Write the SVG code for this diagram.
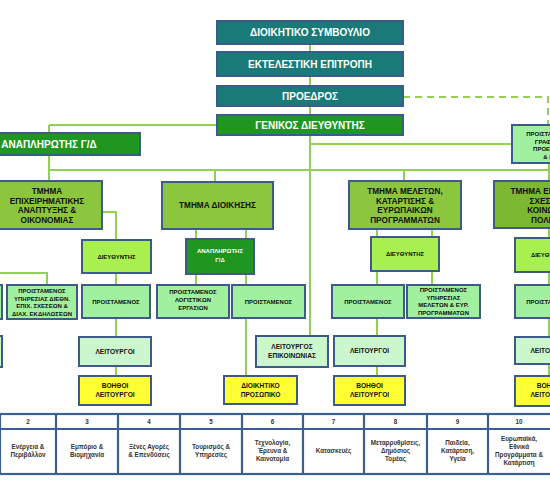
<svg xmlns="http://www.w3.org/2000/svg" width="550" height="500" viewBox="0 0 550 500">
<style>
text{font-family:"Liberation Sans",Arial,sans-serif;font-weight:bold;text-anchor:middle}
.b{stroke:#3c5a8a;stroke-width:2}
.teal{fill:#1a7a78}
.dg{fill:#1f961f}
.tm{fill:#8cc63f}
.tm2{fill:#7cb832}
.di{fill:#a8f050}
.pr{fill:#a0f0a0}
.le{fill:#ccf6cc}
.vo{fill:#ffff33}
.w{fill:#fff}
.k{fill:#111}
.c{fill:none;stroke:#92d050;stroke-width:2}
.t10{font-size:10px}
.t8{font-size:8.2px}
.t6{font-size:6px}
.t65{font-size:6.6px}
.tb{font-size:6.3px;fill:#333}
.tab{fill:#fff;stroke:#3c5f90;stroke-width:2.2}
</style>
<rect width="550" height="500" fill="#fff"/>
<g id="connectors">
<path class="c" d="M310 44V336M49 125H217M49 125V181M310 144H512M49 170H550M215 170V182M404 170V181M549 163V376"/>
<path class="c" d="M403 97H548V125" stroke-dasharray="7,5"/>
<path class="c" d="M102 212H116V240M116 273V376M0 273H47V285"/>
<path class="c" d="M196 229V285M246 229V376M377 229V376M432 229V285"/>
</g>
<g id="board"><rect class="b teal" x="217" y="21" width="186" height="23"/><text class="w t10" x="310" y="36">ΔΙΟΙΚΗΤΙΚΟ ΣΥΜΒΟΥΛΙΟ</text></g>
<g id="exec"><rect class="b teal" x="217" y="52" width="186" height="24"/><text class="w t10" x="310" y="68">ΕΚΤΕΛΕΣΤΙΚΗ ΕΠΙΤΡΟΠΗ</text></g>
<g id="president"><rect class="b teal" x="217" y="86" width="186" height="20"/><text class="w t10" x="310" y="100">ΠΡΟΕΔΡΟΣ</text></g>
<g id="gm"><rect class="b dg" x="217" y="115" width="186" height="20"/><text class="w t10" x="310" y="129">ΓΕΝΙΚΟΣ ΔΙΕΥΘΥΝΤΗΣ</text></g>
<g id="deputy"><rect class="b dg" x="-42" y="133" width="182" height="22"/><text class="w t10" x="49" y="148">ΑΝΑΠΛΗΡΩΤΗΣ Γ/Δ</text></g>
<g id="office"><rect class="b pr" x="512" y="125" width="76" height="38"/><text class="k t6" x="550" y="136">ΠΡΟΙΣΤΑΜΕΝΟΣ<tspan x="550" dy="7.5">ΓΡΑΦΕΙΟΥ</tspan><tspan x="550" dy="7.5">ΠΡΟΕΔΡΟΥ</tspan><tspan x="550" dy="7.5">&amp; ΓΔ</tspan></text></g>

<g id="dept1"><rect class="b tm" x="-8" y="181" width="110" height="48"/><text class="k t8" x="47" y="194">ΤΜΗΜΑ<tspan x="47" dy="9.5">ΕΠΙΧΕΙΡΗΜΑΤΙΚΗΣ</tspan><tspan x="47" dy="9.5">ΑΝΑΠΤΥΞΗΣ &amp;</tspan><tspan x="47" dy="9.5">ΟΙΚΟΝΟΜΙΑΣ</tspan></text></g>
<g id="dir1"><rect class="b di" x="82" y="240" width="69" height="33"/><text class="k t6" x="116.5" y="259">ΔΙΕΥΘΥΝΤΗΣ</text></g>
<g id="edgeA"><rect class="b pr" x="-60" y="285" width="62" height="34"/></g>
<g id="edgeB"><rect class="b le" x="-60" y="336" width="62" height="31"/></g>
<g id="head1b"><rect class="b pr" x="7" y="285" width="70" height="34"/><text class="k t6" x="42" y="293">ΠΡΟΙΣΤΑΜΕΝΟΣ<tspan x="42" dy="7.5">ΥΠΗΡΕΣΙΑΣ ΔΙΕΘΝ.</tspan><tspan x="42" dy="7.5">ΕΠΙΧ. ΣΧΕΣΕΩΝ &amp;</tspan><tspan x="42" dy="7.5">ΔΙΑΧ. ΕΚΔΗΛΩΣΕΩΝ</tspan></text></g>
<g id="head1"><rect class="b pr" x="82" y="285" width="68" height="33"/><text class="k t6" x="116" y="304">ΠΡΟΙΣΤΑΜΕΝΟΣ</text></g>
<g id="off1"><rect class="b le" x="79" y="337" width="72" height="29"/><text class="k t65" x="115" y="354">ΛΕΙΤΟΥΡΓΟΙ</text></g>
<g id="asst1"><rect class="b vo" x="79" y="376" width="72" height="29"/><text class="k t65" x="115" y="388">ΒΟΗΘΟΙ<tspan x="115" dy="9">ΛΕΙΤΟΥΡΓΟΙ</tspan></text></g>

<g id="dept2"><rect class="b tm" x="162" y="182" width="111" height="47"/><text class="k t8" x="217.5" y="208">ΤΜΗΜΑ ΔΙΟΙΚΗΣΗΣ</text></g>
<g id="deputy2"><rect class="b dg" x="186" y="239" width="68" height="35"/><text class="w t6" x="220" y="253">ΑΝΑΠΛΗΡΩΤΗΣ<tspan x="220" dy="9">Γ/Δ</tspan></text></g>
<g id="head2a"><rect class="b pr" x="157" y="285" width="72" height="33"/><text class="k t6" x="193" y="294">ΠΡΟΙΣΤΑΜΕΝΟΣ<tspan x="193" dy="8">ΛΟΓΙΣΤΙΚΩΝ</tspan><tspan x="193" dy="8">ΕΡΓΑΣΙΩΝ</tspan></text></g>
<g id="head2b"><rect class="b pr" x="232" y="285" width="73" height="33"/><text class="k t6" x="268.5" y="304">ΠΡΟΙΣΤΑΜΕΝΟΣ</text></g>
<g id="comm"><rect class="b le" x="256" y="336" width="72" height="31"/><text class="k t65" x="292" y="349">ΛΕΙΤΟΥΡΓΟΣ<tspan x="292" dy="9">ΕΠΙΚΟΙΝΩΝΙΑΣ</tspan></text></g>
<g id="staff2"><rect class="b vo" x="224" y="376" width="73" height="28"/><text class="k t65" x="260.5" y="388">ΔΙΟΙΚΗΤΙΚΟ<tspan x="260.5" dy="9">ΠΡΟΣΩΠΙΚΟ</tspan></text></g>

<g id="dept3"><rect class="b tm" x="349" y="181" width="112" height="48"/><text class="k t8" x="405" y="194">ΤΜΗΜΑ ΜΕΛΕΤΩΝ,<tspan x="405" dy="9.5">ΚΑΤΑΡΤΙΣΗΣ &amp;</tspan><tspan x="405" dy="9.5">ΕΥΡΩΠΑΙΚΩΝ</tspan><tspan x="405" dy="9.5">ΠΡΟΓΡΑΜΜΑΤΩΝ</tspan></text></g>
<g id="dir3"><rect class="b di" x="371" y="237" width="68" height="34"/><text class="k t6" x="405" y="256">ΔΙΕΥΘΥΝΤΗΣ</text></g>
<g id="head3a"><rect class="b pr" x="332" y="285" width="72" height="33"/><text class="k t6" x="368" y="304">ΠΡΟΙΣΤΑΜΕΝΟΣ</text></g>
<g id="head3b"><rect class="b pr" x="407" y="285" width="73" height="33"/><text class="k t6" x="443.5" y="292">ΠΡΟΙΣΤΑΜΕΝΟΣ<tspan x="443.5" dy="7.5">ΥΠΗΡΕΣΙΑΣ</tspan><tspan x="443.5" dy="7.5">ΜΕΛΕΤΩΝ &amp; ΕΥΡ.</tspan><tspan x="443.5" dy="7.5">ΠΡΟΓΡΑΜΜΑΤΩΝ</tspan></text></g>
<g id="off3"><rect class="b le" x="334" y="336" width="71" height="30"/><text class="k t65" x="369.5" y="353">ΛΕΙΤΟΥΡΓΟΙ</text></g>
<g id="asst3"><rect class="b vo" x="334" y="376" width="71" height="29"/><text class="k t65" x="369.5" y="388">ΒΟΗΘΟΙ<tspan x="369.5" dy="9">ΛΕΙΤΟΥΡΓΟΙ</tspan></text></g>

<g id="dept4"><rect class="b tm2" x="494" y="181" width="116" height="47"/><text class="k t8" x="553" y="194">ΤΜΗΜΑ ΕΡΓΑΣΙΑΚΩΝ<tspan x="553" dy="9.5">ΣΧΕΣΕΩΝ &amp;</tspan><tspan x="553" dy="9.5">ΚΟΙΝΩΝΙΚΗΣ</tspan><tspan x="553" dy="9.5">ΠΟΛΙΤΙΚΗΣ</tspan></text></g>
<g id="dir4"><rect class="b di" x="515" y="238" width="70" height="34"/><text class="k t6" x="550" y="257">ΔΙΕΥΘΥΝΤΗΣ</text></g>
<g id="head4"><rect class="b pr" x="515" y="285" width="70" height="33"/><text class="k t6" x="550" y="304">ΠΡΟΙΣΤΑΜΕΝΟΣ</text></g>
<g id="off4"><rect class="b le" x="515" y="337" width="70" height="27"/><text class="k t65" x="550" y="353">ΛΕΙΤΟΥΡΓΟΙ</text></g>
<g id="asst4"><rect class="b vo" x="515" y="376" width="70" height="30"/><text class="k t65" x="550" y="388">ΒΟΗΘΟΙ<tspan x="550" dy="9">ΛΕΙΤΟΥΡΓΟΙ</tspan></text></g>

<g id="table">
<rect class="tab" x="0" y="414" width="560" height="60"/>
<path class="tab" d="M0 429H560M56 414V474M118 414V474M180 414V474M242 414V474M303 414V474M364 414V474M427 414V474M488 414V474"/>
<g class="tb">
<text x="28" y="424">2</text><text x="87" y="424">3</text><text x="149" y="424">4</text><text x="211" y="424">5</text><text x="272.5" y="424">6</text><text x="333.5" y="424">7</text><text x="395.5" y="424">8</text><text x="457.5" y="424">9</text><text x="519" y="424">10</text>
<text x="28" y="449">Ενέργεια &amp;<tspan x="28" dy="8">Περιβάλλον</tspan></text>
<text x="87" y="449">Εμπόριο &amp;<tspan x="87" dy="8">Βιομηχανία</tspan></text>
<text x="149" y="449">Ξένες Αγορές<tspan x="149" dy="8">&amp; Επενδύσεις</tspan></text>
<text x="211" y="449">Τουρισμός &amp;<tspan x="211" dy="8">Υπηρεσίες</tspan></text>
<text x="272.5" y="445">Τεχνολογία,<tspan x="272.5" dy="8">Έρευνα &amp;</tspan><tspan x="272.5" dy="8">Καινοτομία</tspan></text>
<text x="333.5" y="453">Κατασκευές</text>
<text x="395.5" y="445">Μεταρρυθμίσεις,<tspan x="395.5" dy="8">Δημόσιος</tspan><tspan x="395.5" dy="8">Τομέας</tspan></text>
<text x="457.5" y="445">Παιδεία,<tspan x="457.5" dy="8">Κατάρτιση,</tspan><tspan x="457.5" dy="8">Υγεία</tspan></text>
<text x="519" y="441">Ευρωπαϊκά,<tspan x="519" dy="8">Εθνικά</tspan><tspan x="519" dy="8">Προγράμματα &amp;</tspan><tspan x="519" dy="8">Κατάρτιση</tspan></text>
</g>
</g>
</svg>
